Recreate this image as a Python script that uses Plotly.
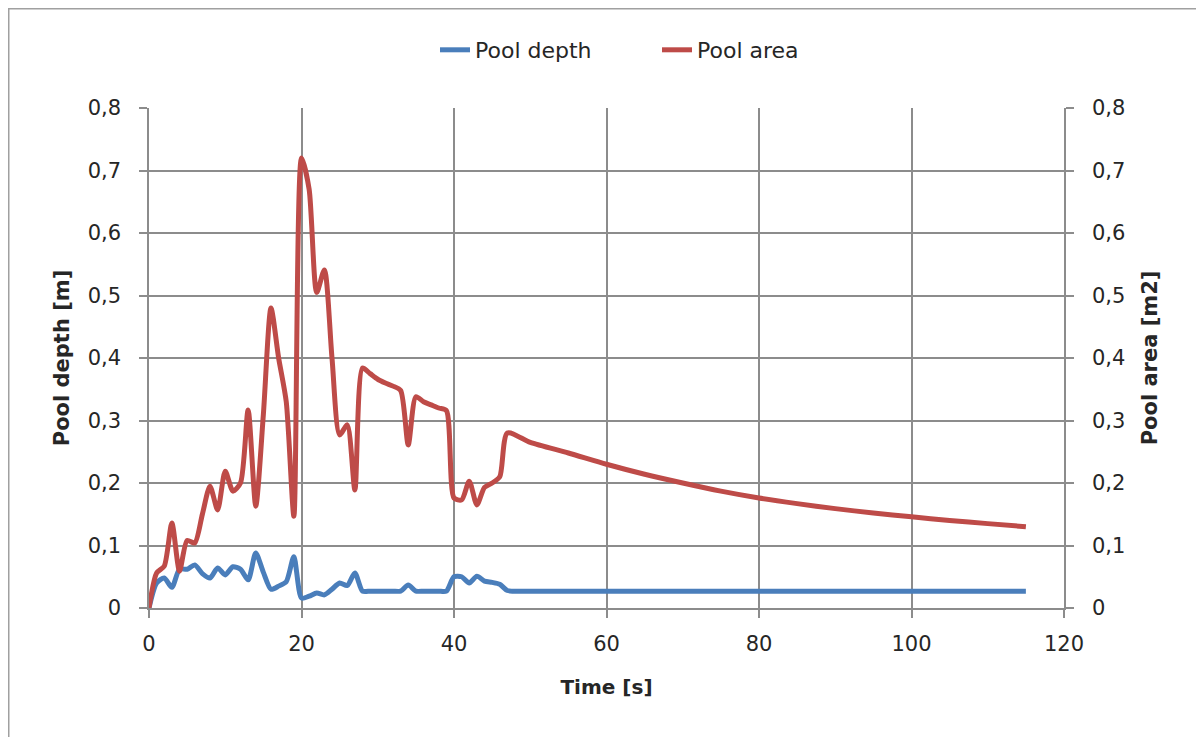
import plotly.graph_objects as go

# Time [s]
time_s = [0, 1, 2, 3, 4, 5, 6, 7, 8, 9, 10, 11, 12, 13, 14, 15, 16, 17, 18, 19,
          20, 21, 22, 23, 24, 25, 26, 27, 28, 29, 30, 31, 32, 33, 34, 35, 36, 37,
          38, 39, 40, 41, 42, 43, 44, 45, 46, 47, 50, 55, 60, 65, 70, 75, 80, 85,
          90, 95, 100, 105, 110, 115]

pool_depth = [0, 0.040, 0.048, 0.033, 0.062, 0.062, 0.069, 0.055, 0.048, 0.064,
              0.053, 0.066, 0.062, 0.045, 0.088, 0.057, 0.030, 0.035, 0.042, 0.082,
              0.016, 0.019, 0.024, 0.021, 0.030, 0.040, 0.036, 0.056, 0.027, 0.027,
              0.027, 0.027, 0.027, 0.027, 0.037, 0.027, 0.027, 0.027, 0.027, 0.027,
              0.050, 0.050, 0.040, 0.051, 0.043, 0.041, 0.038, 0.028, 0.027, 0.027,
              0.027, 0.027, 0.027, 0.027, 0.027, 0.027, 0.027, 0.027, 0.027, 0.027,
              0.027, 0.027]

pool_area = [0, 0.056, 0.067, 0.136, 0.059, 0.108, 0.104, 0.150, 0.195, 0.157,
             0.219, 0.187, 0.200, 0.317, 0.163, 0.310, 0.480, 0.400, 0.330, 0.147,
             0.720, 0.670, 0.505, 0.541, 0.400, 0.277, 0.293, 0.189, 0.384, 0.375,
             0.366, 0.360, 0.355, 0.348, 0.261, 0.338, 0.330, 0.325, 0.320, 0.316,
             0.176, 0.173, 0.203, 0.165, 0.193, 0.200, 0.210, 0.280, 0.265, 0.248,
             0.230, 0.214, 0.200, 0.187, 0.176, 0.167, 0.159, 0.152, 0.146, 0.140,
             0.135, 0.130]

x_ticks = [0, 20, 40, 60, 80, 100, 120]
y_ticks = [0, 0.1, 0.2, 0.3, 0.4, 0.5, 0.6, 0.7, 0.8]
y_tick_labels = ["0", "0,1", "0,2", "0,3", "0,4", "0,5", "0,6", "0,7", "0,8"]

FONT = "DejaVu Sans"
GRID = "#8c8c8c"
TXT = "#262626"

W, H = 1196, 729
L, R, T, B = 141, 140, 100, 129
PW, PH = W - L - R, H - T - B

fig = go.Figure()
fig.add_trace(go.Scatter(x=time_s, y=pool_depth, name="Pool depth", mode="lines",
                         line=dict(color="#4A7EBB", width=5, shape="spline", smoothing=0.7),
                         yaxis="y"))
fig.add_trace(go.Scatter(x=time_s, y=pool_area, name="Pool area", mode="lines",
                         line=dict(color="#BE4B48", width=5, shape="spline", smoothing=0.7),
                         yaxis="y2"))

axis_common = dict(showline=True, linecolor=GRID, linewidth=1.5, ticks="outside",
                   ticklen=8, tickcolor=GRID, tickwidth=1.5, showgrid=True,
                   gridcolor=GRID, gridwidth=1.5, zeroline=False,
                   tickfont=dict(family=FONT, size=21, color=TXT))

fig.update_layout(
    width=W, height=H,
    margin=dict(l=L, r=R, t=T, b=B, autoexpand=False),
    paper_bgcolor="white", plot_bgcolor="white",
    font=dict(family=FONT, size=21, color=TXT),
    showlegend=True,
    legend=dict(orientation="h", x=(427 - L) / PW, xanchor="left", y=(PH + T - 42) / PH,
                yanchor="middle", bgcolor="rgba(0,0,0,0)", entrywidth=177,
                font=dict(family=FONT, size=22, color=TXT),
                traceorder="normal"),
    xaxis=dict(range=[0, 120], tickvals=x_ticks, ticklabelstandoff=8, **axis_common,
               title=dict(text="<b>Time [s]</b>", standoff=25,
                          font=dict(family=FONT, size=20, color=TXT))),
    yaxis=dict(range=[0, 0.8], tickvals=y_ticks, ticktext=y_tick_labels,
               ticklabelstandoff=14, **axis_common,
               title=dict(text="<b>Pool depth [m]</b>", standoff=12,
                          font=dict(family=FONT, size=21, color=TXT))),
    yaxis2=dict(range=[0, 0.8], tickvals=y_ticks, ticktext=y_tick_labels, overlaying="y",
                side="right", ticklabelstandoff=14, **axis_common,
                title=dict(text="<b>Pool area [m2]</b>", standoff=18,
                           font=dict(family=FONT, size=21, color=TXT))),
)

# outer chart border (left and top edges visible)
fig.add_shape(type="rect", xref="paper", yref="paper",
              x0=(0.5 - L) / PW, x1=(W + 20 - L) / PW,
              y0=-(B + 20) / PH, y1=(PH + T - 0.5) / PH,
              line=dict(color="#a0a0a0", width=2), layer="below")

fig.write_html("out.html")
